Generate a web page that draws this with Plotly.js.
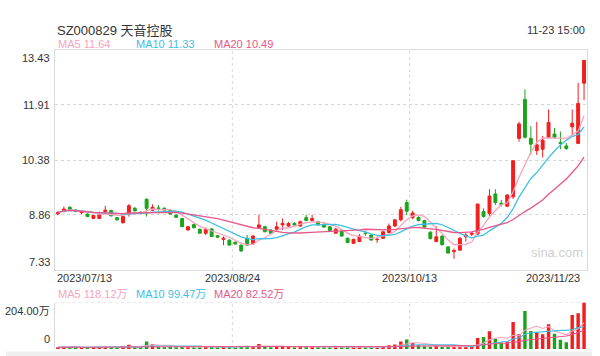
<!DOCTYPE html>
<html>
<head>
<meta charset="utf-8">
<script src="https://cdn.plot.ly/plotly-3.0.1.min.js"></script>
<style>html,body{margin:0;padding:0;background:#fff;}#chart{width:600px;height:356px;}</style>
</head>
<body>
<div id="chart"></div>
<script>
// ---- data ----
const dates = [
 '2023-07-13','2023-07-14','2023-07-17','2023-07-18','2023-07-19','2023-07-20','2023-07-21','2023-07-24','2023-07-25','2023-07-26',
 '2023-07-27','2023-07-28','2023-07-31','2023-08-01','2023-08-02','2023-08-03','2023-08-04','2023-08-07','2023-08-08','2023-08-09',
 '2023-08-10','2023-08-11','2023-08-14','2023-08-15','2023-08-16','2023-08-17','2023-08-18','2023-08-21','2023-08-22','2023-08-23',
 '2023-08-24','2023-08-25','2023-08-28','2023-08-29','2023-08-30','2023-08-31','2023-09-01','2023-09-04','2023-09-05','2023-09-06',
 '2023-09-07','2023-09-08','2023-09-11','2023-09-12','2023-09-13','2023-09-14','2023-09-15','2023-09-18','2023-09-19','2023-09-20',
 '2023-09-21','2023-09-22','2023-09-25','2023-09-26','2023-09-27','2023-09-28','2023-10-09','2023-10-10','2023-10-11','2023-10-12',
 '2023-10-13','2023-10-16','2023-10-17','2023-10-18','2023-10-19','2023-10-20','2023-10-23','2023-10-24','2023-10-25','2023-10-26',
 '2023-10-27','2023-10-30','2023-10-31','2023-11-01','2023-11-02','2023-11-03','2023-11-06','2023-11-07','2023-11-08','2023-11-09',
 '2023-11-10','2023-11-13','2023-11-14','2023-11-15','2023-11-16','2023-11-17','2023-11-20','2023-11-21','2023-11-22','2023-11-23'];
const openP = [
 8.89,8.95,9.07,8.99,8.92,8.88,8.76,8.76,8.95,8.98,
 8.78,8.64,8.88,9.04,8.93,9.29,8.99,9.05,9.04,8.98,
 8.85,8.76,8.44,8.59,8.46,8.35,8.47,8.28,8.18,8.16,
 8.10,8.02,8.21,8.05,8.51,8.53,8.44,8.46,8.58,8.55,
 8.62,8.55,8.78,8.70,8.67,8.60,8.53,8.35,8.41,8.21,
 8.07,8.12,8.35,8.30,8.17,8.21,8.37,8.55,8.72,9.20,
 8.78,8.79,8.70,8.38,8.12,8.27,7.97,7.84,7.88,8.25,
 8.32,8.33,8.95,8.90,9.44,9.18,9.10,9.36,10.98,12.06,
 10.98,10.64,10.68,11.01,11.10,10.86,10.77,11.30,10.84,12.51];
const highP = [
 8.97,9.09,9.10,9.02,8.98,8.90,8.86,8.95,9.11,9.00,
 8.80,8.83,9.16,9.08,8.96,9.32,9.15,9.13,9.07,9.00,
 8.87,8.77,8.55,8.62,8.48,8.51,8.49,8.30,8.26,8.18,
 8.12,8.03,8.30,8.30,8.86,8.55,8.46,8.67,8.76,8.66,
 8.66,8.70,8.86,8.86,8.69,8.62,8.55,8.50,8.43,8.23,
 8.20,8.33,8.42,8.32,8.26,8.41,8.62,8.74,9.08,9.28,
 8.97,8.82,8.72,8.40,8.54,8.29,7.99,7.93,8.25,8.35,
 8.38,9.16,9.04,9.57,9.57,9.27,9.43,10.36,11.44,12.34,
 11.32,11.44,11.05,11.78,11.27,11.17,10.85,11.78,12.52,13.14];
const lowP = [
 8.85,8.93,9.00,8.93,8.88,8.80,8.74,8.75,8.92,8.82,
 8.70,8.62,8.81,8.95,8.88,8.81,8.96,8.97,8.98,8.87,
 8.78,8.52,8.42,8.49,8.34,8.30,8.25,8.22,8.02,8.01,
 8.04,7.83,8.00,8.02,8.47,8.38,8.33,8.44,8.44,8.53,
 8.56,8.53,8.68,8.68,8.56,8.50,8.40,8.33,8.26,8.08,
 8.05,8.10,8.28,8.15,8.08,8.19,8.35,8.52,8.68,8.85,
 8.74,8.68,8.50,8.18,8.10,8.01,7.79,7.64,7.86,8.12,
 8.27,8.30,8.78,8.83,9.13,9.09,9.07,9.30,10.89,10.98,
 10.52,10.52,10.45,10.98,10.98,10.68,10.66,11.05,10.82,12.04];
const closeP = [
 8.92,9.02,9.02,8.95,8.95,8.81,8.84,8.86,8.99,8.83,
 8.72,8.81,9.11,8.97,8.92,9.04,9.07,9.04,8.99,8.88,
 8.79,8.53,8.53,8.50,8.35,8.46,8.26,8.24,8.21,8.02,
 8.05,7.86,8.02,8.27,8.58,8.39,8.35,8.53,8.62,8.62,
 8.58,8.67,8.70,8.76,8.58,8.52,8.42,8.46,8.27,8.09,
 8.18,8.27,8.34,8.16,8.18,8.39,8.55,8.72,9.00,8.96,
 8.91,8.70,8.52,8.20,8.25,8.03,7.80,7.87,8.21,8.30,
 8.35,9.16,8.81,9.38,9.20,9.15,9.41,10.36,11.38,11.01,
 10.82,10.80,10.93,11.42,11.01,10.84,10.70,11.40,11.95,13.14];
// volume in 万 (10k shares)
const volume = [
 8,10,8,7,7,8,7,9,10,8,
 7,9,19,10,7,33,22,10,8,9,
 8,11,9,8,8,9,10,8,9,8,
 7,10,14,12,22,10,8,11,12,9,
 8,10,11,10,8,8,7,8,8,8,
 8,9,7,8,7,10,16,20,33,42,
 26,16,12,10,12,9,9,10,11,9,
 12,48,53,78,45,29,32,119,65,167,
 79,75,65,109,67,41,30,149,157,204];

const priceTicks = [13.43, 11.91, 10.38, 8.86, 7.33];
const priceGrid = [11.91, 10.38, 8.86];
const volTopLabel = 204;
const volTickText = ['204.00万', '0'];
const xLabelDates = ['2023-07-13', '2023-08-24', '2023-10-13', '2023-11-23'];
const xLabelText = ['2023/07/13', '2023/08/24', '2023/10/13', '2023/11/23'];
const gridDates = ['2023-08-24', '2023-10-13'];
const maPeriods = [5, 10, 20];
const maNames = ['MA5', 'MA10', 'MA20'];
const maLast = ['11.64', '11.33', '10.49'];
const volMaLast = ['118.12万', '99.47万', '82.52万'];
const titleText = 'SZ000829 天音控股';
const timeText = '11-23 15:00';

// ---- styles ----
const RED = '#f41d1d', GREEN = '#1ca31c';
const maColors = ['#f7a3be', '#3fc0e3', '#e9578a'];
const FONT = 'Liberation Sans, Arial, Noto Sans CJK SC, sans-serif';

function movingAvg(arr, n) {
  return arr.map((_, i) => {
    const s = Math.max(0, i - n + 1);
    const w = arr.slice(s, i + 1);
    return w.reduce((a, b) => a + b, 0) / w.length;
  });
}

const traces = [];
traces.push({
  type: 'candlestick', x: dates, open: openP, high: highP, low: lowP, close: closeP,
  xaxis: 'x', yaxis: 'y', whiskerwidth: 0, hoverinfo: 'skip', showlegend: false,
  increasing: { line: { color: RED, width: 1 }, fillcolor: RED },
  decreasing: { line: { color: GREEN, width: 1 }, fillcolor: GREEN }
});
maPeriods.forEach((p, k) => {
  traces.push({ type: 'scatter', mode: 'lines', x: dates, y: movingAvg(closeP, p),
    xaxis: 'x', yaxis: 'y', line: { color: maColors[k], width: 1.3 }, hoverinfo: 'skip', showlegend: false });
});
traces.push({
  type: 'bar', x: dates, y: volume, xaxis: 'x2', yaxis: 'y2', hoverinfo: 'skip', showlegend: false,
  marker: { color: closeP.map((c, i) => c >= openP[i] ? RED : GREEN), line: { width: 0 } }
});
maPeriods.forEach((p, k) => {
  traces.push({ type: 'scatter', mode: 'lines', x: dates, y: movingAvg(volume, p),
    xaxis: 'x2', yaxis: 'y2', line: { color: maColors[k], width: 1.1 }, hoverinfo: 'skip', showlegend: false });
});

// ---- geometry helpers (pixels -> paper) ----
const W = 600, H = 356, mL = 55, mR = 13, mT = 50, mB = 7;
const pw = W - mL - mR, ph = H - mT - mB;
const px = x => (x - mL) / pw;
const py = y => (H - mB - y) / ph;

const annotations = [];
const txt = (text, x, y, xa, size, color, extra) => Object.assign({
  text, x, y, xref: 'paper', yref: 'paper', xanchor: xa, yanchor: 'middle', showarrow: false,
  font: { family: FONT, size, color }
}, extra || {});

annotations.push(txt(titleText, px(55), py(30), 'left', 13, '#333'));
annotations.push(txt(timeText, px(587), py(30), 'right', 11, '#333'));
const legX = [56, 134, 212];
maNames.forEach((n, k) => {
  annotations.push(txt(n + ' ' + maLast[k], px(legX[k]), py(44), 'left', 11, maColors[k]));
  annotations.push(txt(n + ' ' + volMaLast[k], px(legX[k]), py(294), 'left', 11, maColors[k]));
});
priceTicks.forEach((v, i) => {
  const ya = i === 0 ? 'top' : (i === priceTicks.length - 1 ? 'bottom' : 'middle');
  annotations.push({ text: v.toFixed(2), x: px(52), xref: 'paper', xanchor: 'right', y: v, yref: 'y',
    yanchor: ya, showarrow: false, font: { family: FONT, size: 11, color: '#333' } });
});
xLabelDates.forEach((d, i) => {
  const xa = i === 0 ? 'left' : (i === xLabelDates.length - 1 ? 'right' : 'center');
  const sh = i === 0 ? -3 : (i === xLabelDates.length - 1 ? -2 : -3);
  annotations.push({ text: xLabelText[i], x: dates.indexOf(d), xref: 'x', xanchor: xa, xshift: sh,
    y: py(278), yref: 'paper', yanchor: 'middle', showarrow: false,
    font: { family: FONT, size: 11, color: '#333' } });
});
annotations.push({ text: volTickText[0], x: px(52), xref: 'paper', xanchor: 'right', y: volTopLabel, yref: 'y2',
  yanchor: 'top', showarrow: false, font: { family: FONT, size: 11, color: '#333' } });
annotations.push({ text: volTickText[1], x: px(52), xref: 'paper', xanchor: 'right', y: 0, yref: 'y2',
  yanchor: 'bottom', yshift: 2, showarrow: false, font: { family: FONT, size: 11, color: '#333' } });
annotations.push(txt('sina.com', px(557), py(252), 'center', 13, '#cfcfcf'));

const shapes = [];
gridDates.forEach(d => {
  const i = dates.indexOf(d) - 0.5;
  shapes.push({ type: 'line', xref: 'x', yref: 'y domain', x0: i, x1: i, y0: 0, y1: 1,
    line: { color: '#d6d6d6', width: 1, dash: 'dot' }, layer: 'below' });
  shapes.push({ type: 'line', xref: 'x2', yref: 'y2 domain', x0: i, x1: i, y0: 0, y1: 1,
    line: { color: '#d6d6d6', width: 1, dash: 'dot' }, layer: 'below' });
});
shapes.push({ type: 'line', xref: 'paper', yref: 'y2', x0: 0, x1: 1, y0: volTopLabel, y1: volTopLabel,
  line: { color: '#d6d6d6', width: 1, dash: 'dot' }, layer: 'below' });
shapes.push({ type: 'rect', xref: 'paper', yref: 'paper', x0: px(6), x1: px(592), y0: py(351.5), y1: py(356),
  fillcolor: '#efefef', line: { width: 0 }, layer: 'below' });

const layout = {
  width: W, height: H, margin: { l: mL, r: mR, t: mT, b: mB, pad: 0 },
  paper_bgcolor: '#fff', plot_bgcolor: '#fff', showlegend: false, dragmode: false,
  bargap: 0.42,
  xaxis: { type: 'category', anchor: 'y', domain: [0, 1], range: [-0.5, dates.length - 0.5],
    showticklabels: false, showgrid: false, zeroline: false, ticks: '',
    showline: true, mirror: true, linecolor: '#d9d9d9', linewidth: 1, rangeslider: { visible: false }, fixedrange: true },
  xaxis2: { type: 'category', anchor: 'y2', matches: 'x', domain: [0, 1], range: [-0.5, dates.length - 0.5],
    showticklabels: false, showgrid: false, zeroline: false, ticks: '', showline: false,
    rangeslider: { visible: false }, fixedrange: true },
  yaxis: { domain: [py(270), 1], range: [priceTicks[priceTicks.length - 1], priceTicks[0]],
    tickvals: priceGrid, showticklabels: false, ticks: '', showgrid: true, griddash: 'dot', gridcolor: '#d6d6d6',
    zeroline: false, showline: true, mirror: true, linecolor: '#d9d9d9', linewidth: 1, fixedrange: true },
  yaxis2: { domain: [0, py(302.5)], range: [0, volTopLabel], showticklabels: false, ticks: '', showgrid: false,
    zeroline: false, showline: true, linecolor: '#d9d9d9', linewidth: 1, fixedrange: true },
  annotations, shapes
};

Plotly.newPlot('chart', traces, layout, { displayModeBar: false, staticPlot: true });
</script>
</body>
</html>
